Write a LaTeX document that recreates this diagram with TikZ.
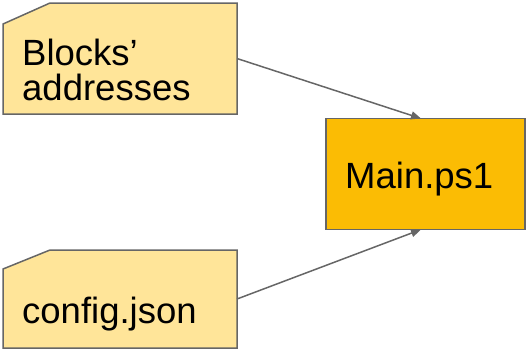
\documentclass[tikz,border=0pt]{standalone}
\usepackage{fontspec}
\setmainfont{Liberation Sans}
\usetikzlibrary{arrows.meta}
\definecolor{docfill}{HTML}{FFE599}
\definecolor{mainfill}{HTML}{FBBC04}
\definecolor{edge}{HTML}{666666}
\tikzset{
  docarea/.style={rectangle, inner sep=0pt, outer sep=0pt},
  docshape/.style={draw=edge, fill=docfill, line width=1.5pt, line join=miter},
  mainbox/.style={rectangle, draw=edge, fill=mainfill, line width=1.5pt,
    inner sep=0pt, outer sep=0pt},
  lbl/.style={anchor=base west, inner sep=0pt, font=\fontsize{36.5}{37}\selectfont},
  link/.style={draw=edge, line width=1.5pt, -{Triangle[length=10pt,width=8pt]}}
}
\begin{document}
\begin{tikzpicture}[x=1pt,y=-1pt]
\useasboundingbox (0,0) rectangle (526,349);
\node[docarea, minimum width=234pt, minimum height=111pt] (blocks) at (120,58.5) {};
\node[docarea, minimum width=234pt, minimum height=98pt] (config) at (120,299) {};
\path[docshape] ([yshift=-21pt]blocks.north west) -- ([xshift=47pt]blocks.north west)
  -- (blocks.north east) -- (blocks.south east) -- (blocks.south west) -- cycle;
\path[docshape] ([yshift=-19pt]config.north west) -- ([xshift=47pt]config.north west)
  -- (config.north east) -- (config.south east) -- (config.south west) -- cycle;
\node[mainbox, minimum width=199pt, minimum height=111pt] (main) at (425.5,174) {};
\node[lbl] (t1) at (22,65) {Blocks’};
\node[lbl] (t2) at (22,100.5) {addresses};
\node[lbl] (t3) at (22,323) {config.json};
\node[lbl] (t4) at (345,188) {Main.ps1};
\coordinate (mtop) at (421,118.5);
\coordinate (mbot) at (421,229.5);
\draw[link] (blocks.east) -- (mtop);
\draw[link] (config.east) -- (mbot);
\end{tikzpicture}
\end{document}
